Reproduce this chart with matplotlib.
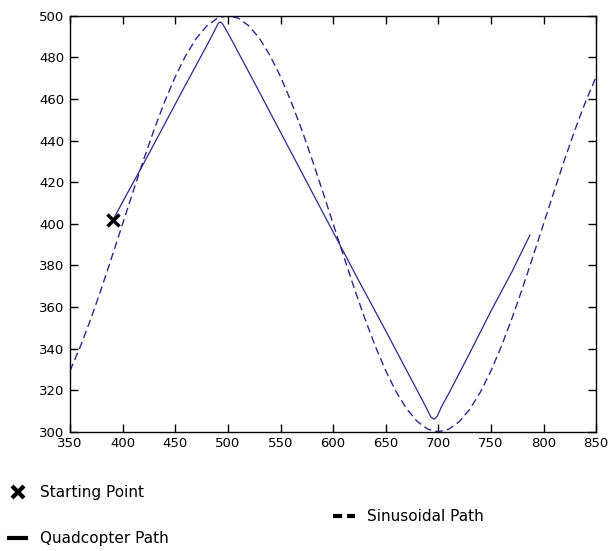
import matplotlib
matplotlib.use("Agg")
import matplotlib.pyplot as plt
from matplotlib.lines import Line2D

# Sinusoidal reference path
sin_x = [350, 360, 370, 380, 390, 400, 410, 420, 430, 440, 450, 460, 470, 480, 490,
         500, 510, 520, 530, 540, 550, 560, 570, 580, 590, 600, 610, 620, 630, 640,
         650, 660, 670, 680, 690, 700, 710, 720, 730, 740, 750, 760, 770, 780, 790,
         800, 810, 820, 830, 840, 850]
sin_y = [329.3, 341.2, 354.6, 369.1, 384.4, 400.0, 415.6, 430.9, 445.4, 458.8, 470.7,
         480.9, 489.1, 495.1, 498.8, 500.0, 498.8, 495.1, 489.1, 480.9, 470.7, 458.8,
         445.4, 430.9, 415.6, 400.0, 384.4, 369.1, 354.6, 341.2, 329.3, 319.1, 310.9,
         304.9, 301.2, 300.0, 301.2, 304.9, 310.9, 319.1, 329.3, 341.2, 354.6, 369.1,
         384.4, 400.0, 415.6, 430.9, 445.4, 458.8, 470.7]

# Quadcopter path
quad_x = [391, 400, 420, 440, 460, 475, 484, 488, 491, 493, 495, 498, 505, 525, 550,
          575, 600, 625, 650, 675, 685, 690, 693, 696, 699, 703, 710, 730, 750, 770, 787]
quad_y = [402, 410.5, 429, 448, 467, 481, 489.5, 493.5, 496.5, 497, 496, 493.5, 487,
          468, 444, 420, 396, 372, 348.5, 324.5, 315, 310, 307, 306, 307.5, 312, 318.5,
          338, 358, 377, 394.5]

start_x = [391]
start_y = [402]

x_ticks = [350, 400, 450, 500, 550, 600, 650, 700, 750, 800, 850]
y_ticks = [300, 320, 340, 360, 380, 400, 420, 440, 460, 480, 500]

line_color = "#2a2a8c"

fig = plt.figure(figsize=(6.09, 5.51), dpi=100)
ax = fig.add_axes([0.115, 0.2165, 0.864, 0.755])

ax.plot(sin_x, sin_y, color=line_color, lw=1.0, linestyle=(0, (5.5, 3)))
ax.plot(quad_x, quad_y, color=line_color, lw=0.9)
ax.plot(start_x, start_y, linestyle="none", marker="x", color="black",
        markersize=8, markeredgewidth=2.5)

ax.set_xlim(350, 850)
ax.set_ylim(300, 500)
ax.set_xticks(x_ticks)
ax.set_yticks(y_ticks)
ax.tick_params(direction="in", top=True, right=True, length=6, width=1,
               labelsize=9.5, pad=4)
for s in ax.spines.values():
    s.set_linewidth(1.0)

h_start = Line2D([], [], linestyle="none", marker="x", color="black",
                 markersize=9, markeredgewidth=3)
h_quad = Line2D([], [], color="black", lw=3)
h_sin = Line2D([], [], color="black", lw=3, linestyle=(0, (2.2, 1.2)))

leg1 = fig.legend(handles=[h_start, h_quad], labels=["Starting Point", "Quadcopter Path"],
                  loc="upper left", bbox_to_anchor=(0.005, 0.131), frameon=False,
                  fontsize=11, handlelength=1.1, handletextpad=0.9, labelspacing=2.06,
                  borderaxespad=0.0)
leg2 = fig.legend(handles=[h_sin], labels=["Sinusoidal Path"],
                  loc="upper left", bbox_to_anchor=(0.5365, 0.0875), frameon=False,
                  fontsize=11, handlelength=1.45, handletextpad=0.8,
                  borderaxespad=0.0)

fig.savefig("out.png", dpi=100)
